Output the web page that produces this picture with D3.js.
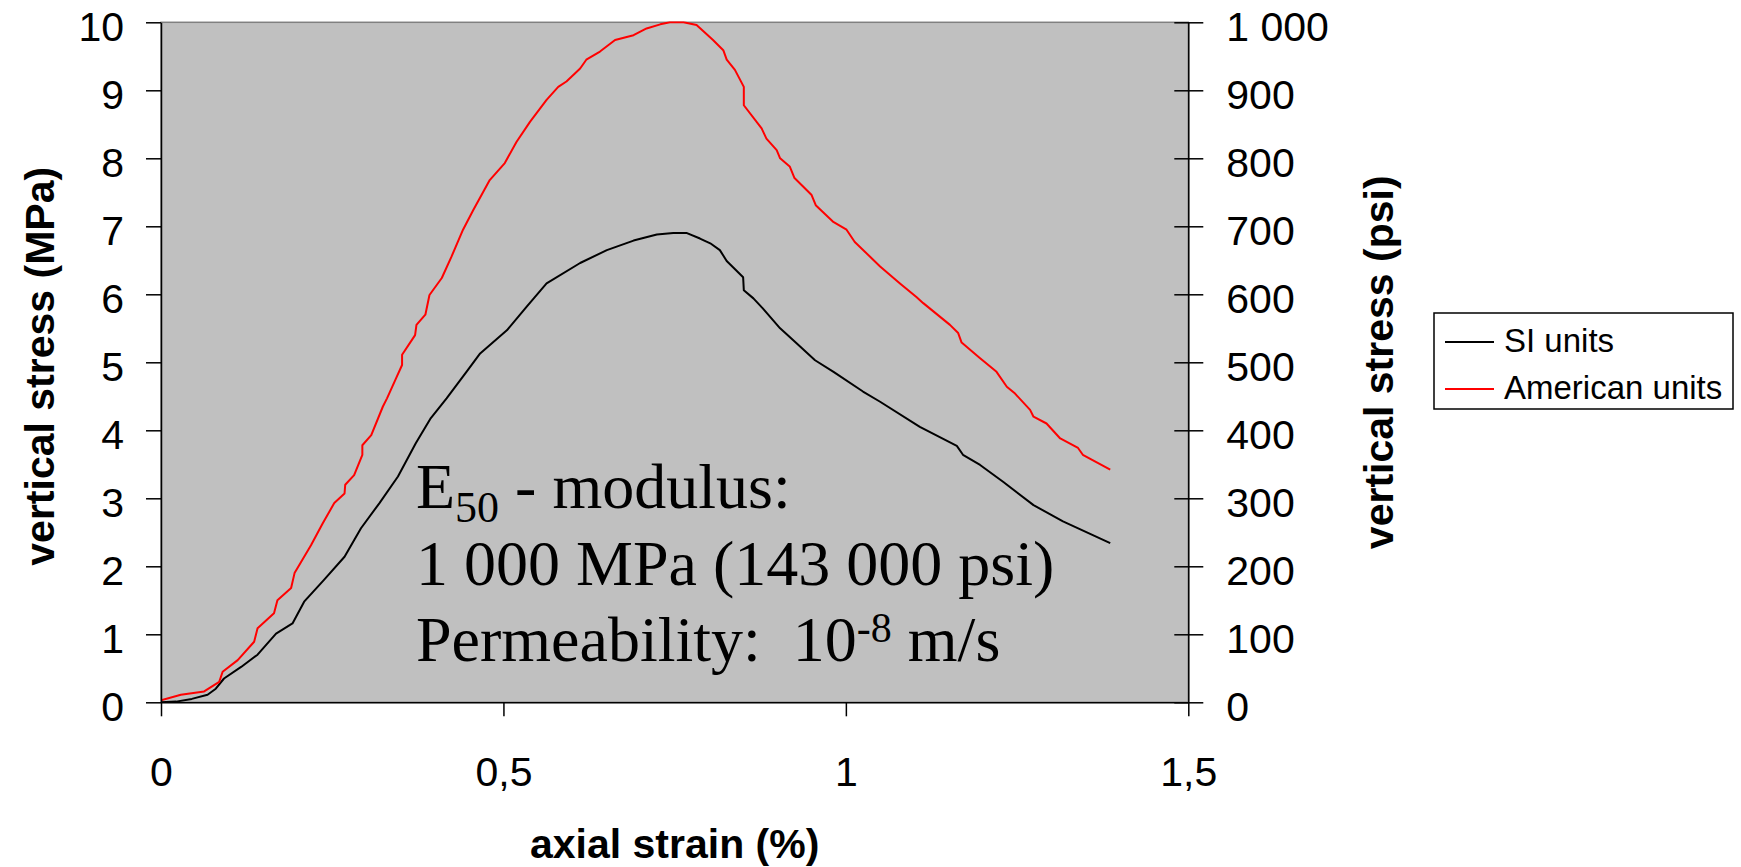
<!DOCTYPE html>
<html>
<head>
<meta charset="utf-8">
<script src="https://cdn.jsdelivr.net/npm/d3@7/dist/d3.min.js"></script>
<style>
  html, body { margin: 0; padding: 0; background: #fff; }
  svg { display: block; }
  text { font-family: "Liberation Sans", Arial, sans-serif; fill: #000; }
</style>
</head>
<body>
<svg id="chart" width="1741" height="867"></svg>
<script>
// ---- data ----
const siStrain = [0,0.022,0.045,0.068,0.080,0.092,0.117,0.141,0.168,0.192,0.209,0.238,0.268,0.292,0.319,0.346,0.372,0.394,0.417,0.446,0.466,0.505,0.534,0.563,0.612,0.651,0.690,0.724,0.748,0.768,0.787,0.802,0.816,0.826,0.850,0.851,0.865,0.879,0.904,0.928,0.955,0.982,1.025,1.050,1.108,1.162,1.171,1.196,1.230,1.274,1.317,1.386];
const siStress = [0,0.01,0.05,0.11,0.20,0.35,0.52,0.70,1.01,1.16,1.48,1.80,2.14,2.56,2.93,3.32,3.81,4.18,4.47,4.86,5.13,5.47,5.82,6.16,6.46,6.65,6.79,6.88,6.90,6.90,6.82,6.75,6.65,6.49,6.25,6.06,5.94,5.79,5.50,5.28,5.03,4.86,4.57,4.42,4.05,3.77,3.64,3.49,3.24,2.90,2.66,2.34];

const usStrain = [0,0.029,0.063,0.085,0.090,0.112,0.136,0.141,0.165,0.170,0.190,0.195,0.219,0.236,0.253,0.268,0.269,0.282,0.294,0.294,0.307,0.324,0.330,0.343,0.352,0.352,0.371,0.373,0.386,0.392,0.410,0.424,0.441,0.456,0.480,0.502,0.519,0.539,0.563,0.580,0.592,0.612,0.621,0.641,0.663,0.690,0.709,0.729,0.743,0.763,0.782,0.806,0.821,0.826,0.838,0.851,0.851,0.877,0.884,0.899,0.904,0.918,0.925,0.950,0.956,0.981,1.001,1.013,1.050,1.079,1.103,1.113,1.152,1.164,1.169,1.196,1.220,1.235,1.247,1.269,1.274,1.293,1.313,1.339,1.346,1.386];
const usStress = [3,11,16,30,45,62,89,109,131,150,168,190,231,263,293,307,320,334,364,378,393,435,447,476,496,511,540,555,570,599,624,655,695,724,768,793,824,854,886,905,913,932,945,957,974,981,991,997,1000,1000,996,974,959,945,930,905,878,844,829,812,800,788,771,746,731,707,695,677,641,616,596,587,555,543,529,506,486,464,454,430,420,410,388,374,364,342];

const xTicks = [0, 0.5, 1, 1.5];
const yLeftTicks = [0,1,2,3,4,5,6,7,8,9,10];
const yRightTicks = [0,100,200,300,400,500,600,700,800,900,1000];
const seriesNames = ["SI units", "American units"];
const seriesColors = ["#000000", "#ff0000"];

// ---- layout ----
const L = 161, R = 1188.3, T = 22.3, B = 702.3;
const svg = d3.select("#chart");
const loc = d3.formatLocale({decimal: ",", thousands: " ", grouping: [3], currency: ["", ""]});
const fmtX = loc.format("~g");
const fmtR = loc.format(",");

const x = d3.scaleLinear().domain([0, 1.5]).range([L, R]);
const yL = d3.scaleLinear().domain([0, 10]).range([B, T]);
const yR = d3.scaleLinear().domain([0, 1000]).range([B, T]);

// plot area
svg.append("rect").attr("x", L).attr("y", T).attr("width", R - L).attr("height", B - T)
  .attr("fill", "#c0c0c0").attr("stroke", "#808080").attr("stroke-width", 1.5);

// lines
svg.append("clipPath").attr("id", "clip").append("rect")
  .attr("x", L).attr("y", T - 1).attr("width", R - L).attr("height", B - T + 1);
const lineSI = d3.line().x((d, i) => x(siStrain[i])).y((d, i) => yL(siStress[i]));
const lineUS = d3.line().x((d, i) => x(usStrain[i])).y((d, i) => yR(usStress[i]));
const gLines = svg.append("g").attr("clip-path", "url(#clip)");
gLines.append("path").attr("d", lineSI(siStress)).attr("fill", "none")
  .attr("stroke", seriesColors[0]).attr("stroke-width", 2).attr("stroke-linejoin", "round");
gLines.append("path").attr("d", lineUS(usStress)).attr("fill", "none")
  .attr("stroke", seriesColors[1]).attr("stroke-width", 2).attr("stroke-linejoin", "round");

// axes
const axisFont = 41;
const gx = svg.append("g").attr("transform", `translate(0,${B})`)
  .call(d3.axisBottom(x).tickValues(xTicks).tickFormat(fmtX).tickSize(14).tickSizeOuter(0));
gx.selectAll("text").attr("y", 55).attr("dy", "0.71em").style("font-size", axisFont + "px")
  .style("font-family", '"Liberation Sans", Arial, sans-serif');

const gl = svg.append("g").attr("transform", `translate(${L},0)`)
  .call(d3.axisLeft(yL).tickValues(yLeftTicks).tickFormat(d3.format("d")).tickSize(15).tickPadding(22).tickSizeOuter(0));
gl.selectAll("text").attr("dy", "0.44em").style("font-size", axisFont + "px")
  .style("font-family", '"Liberation Sans", Arial, sans-serif');

const gr = svg.append("g").attr("transform", `translate(${R},0)`)
  .call(d3.axisRight(yR).tickValues(yRightTicks).tickFormat(fmtR).tickSize(15).tickPadding(23).tickSizeOuter(0));
gr.selectAll(".tick line").attr("x1", -14);
gr.selectAll("text").attr("dy", "0.44em").style("font-size", axisFont + "px")
  .style("font-family", '"Liberation Sans", Arial, sans-serif');

[gx, gl, gr].forEach(g => {
  g.selectAll("path.domain").attr("stroke", "#000").attr("stroke-width", 1.5);
  g.selectAll(".tick line").attr("stroke", "#000").attr("stroke-width", 1.5);
  g.selectAll("text").attr("fill", "#000");
});

// axis titles
svg.append("text").attr("x", (L + R) / 2).attr("y", 858).attr("text-anchor", "middle")
  .style("font-size", "41px").style("font-weight", "bold").text("axial strain (%)");
svg.append("text").attr("transform", `translate(54,${(T + B) / 2 + 4}) rotate(-90)`)
  .attr("text-anchor", "middle").style("font-size", "41px").style("font-weight", "bold")
  .text("vertical stress (MPa)");
svg.append("text").attr("transform", `translate(1393,${(T + B) / 2}) rotate(-90)`)
  .attr("text-anchor", "middle").style("font-size", "41px").style("font-weight", "bold")
  .text("vertical stress (psi)");

// annotation
const serif = '"Liberation Serif", "Times New Roman", serif';
const ann = svg.append("g").attr("transform", "translate(416,0)");
const t1 = ann.append("text").attr("x", 0).attr("y", 508).style("font-size", "64px")
  .style("font-family", serif);
t1.append("tspan").text("E");
t1.append("tspan").attr("dy", 14).style("font-size", "44px").text("50");
t1.append("tspan").attr("dy", -14).text(" - modulus:");
ann.append("text").attr("x", 0).attr("y", 585).style("font-size", "64px")
  .style("font-family", serif).text("1 000 MPa (143 000 psi)");
const t3 = ann.append("text").attr("x", 0).attr("y", 661).style("font-size", "64px")
  .style("font-family", serif).style("white-space", "pre");
t3.append("tspan").text("Permeability:  10");
t3.append("tspan").attr("dy", -19).style("font-size", "42px").text("-8");
t3.append("tspan").attr("dy", 19).text(" m/s");

// legend
const lg = svg.append("g");
lg.append("rect").attr("x", 1434).attr("y", 313).attr("width", 299).attr("height", 96)
  .attr("fill", "#fff").attr("stroke", "#000").attr("stroke-width", 1.5);
seriesNames.forEach((name, i) => {
  const cy = 342 + i * 47;
  lg.append("line").attr("x1", 1445).attr("x2", 1494).attr("y1", cy).attr("y2", cy)
    .attr("stroke", seriesColors[i]).attr("stroke-width", 2);
  lg.append("text").attr("x", 1504).attr("y", cy + 10).style("font-size", "33px").text(name);
});
</script>
</body>
</html>
